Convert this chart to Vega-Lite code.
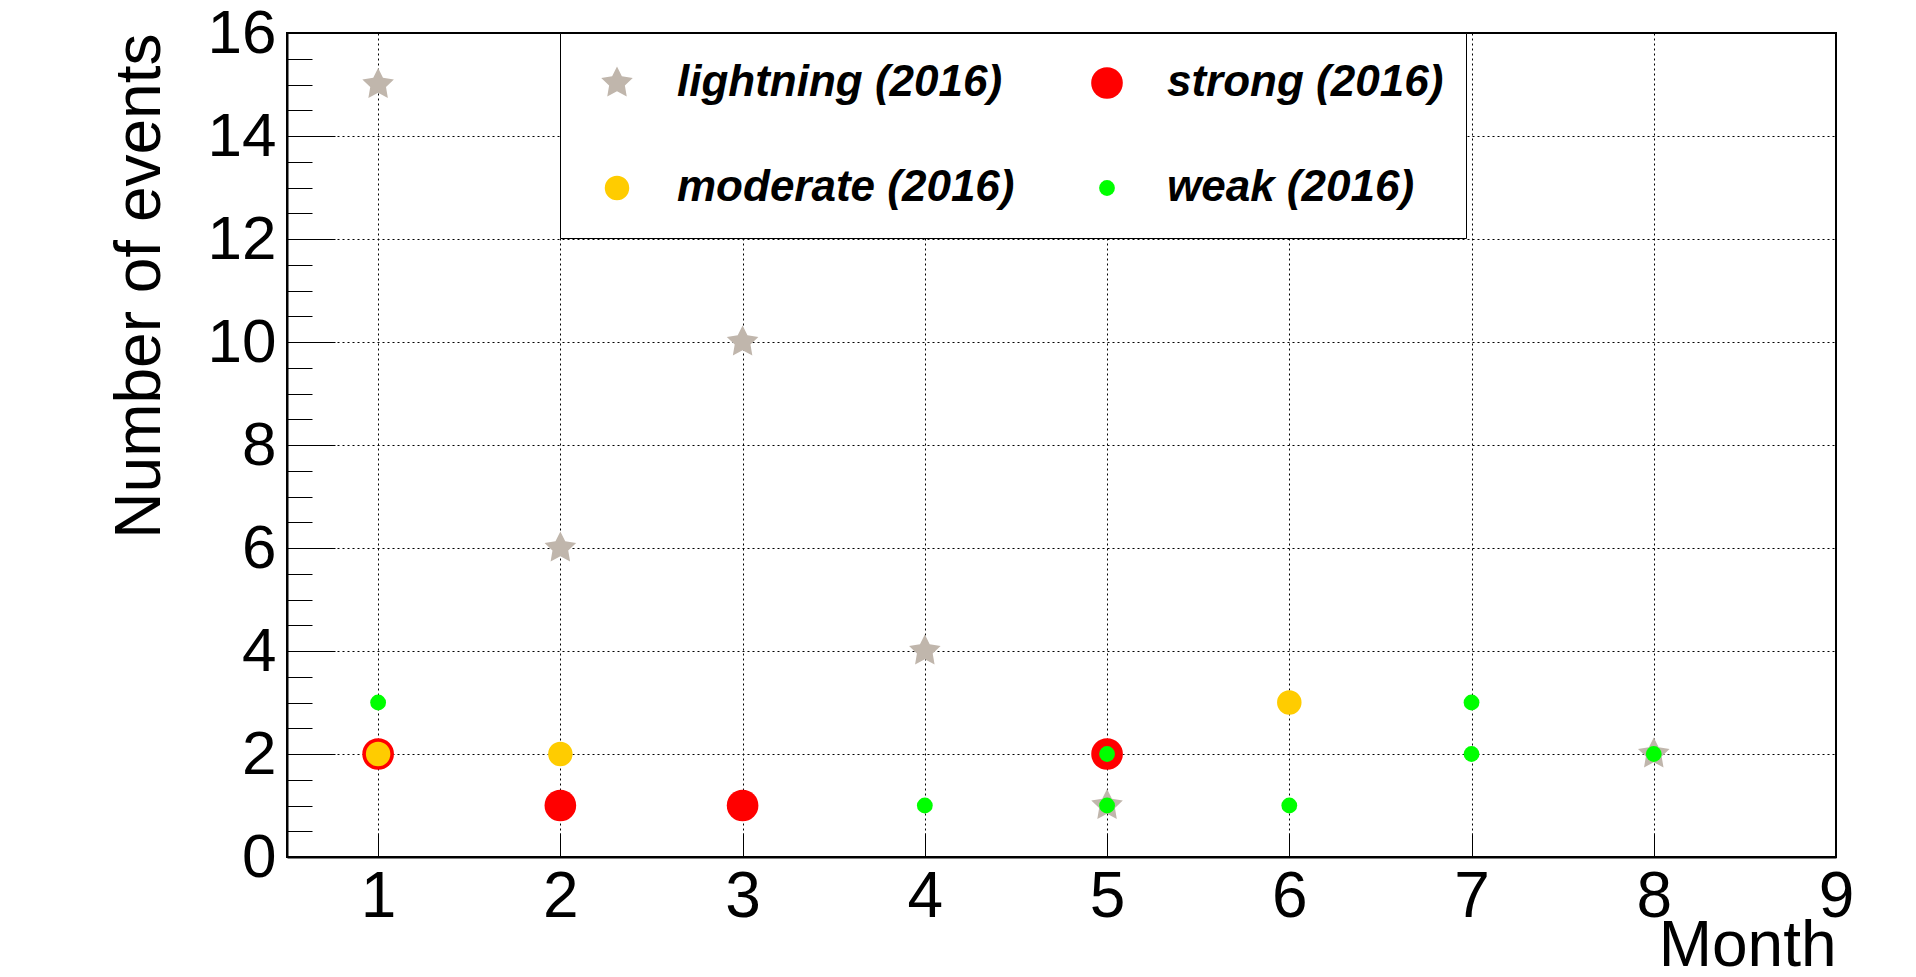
{
  "$schema": "https://vega.github.io/schema/vega-lite/v6.json",
  "width": 1549,
  "height": 824,
  "autosize": {"type": "none"},
  "padding": {"left": 287, "top": 33, "right": 80, "bottom": 120},
  "background": "white",
  "config": {"view": {"stroke": "black", "strokeWidth": 2}, "font": "Liberation Sans"},
  "data": {
    "values": [
      {"series": "lightning (2016)", "month": 1, "count": 15},
      {"series": "lightning (2016)", "month": 2, "count": 6},
      {"series": "lightning (2016)", "month": 3, "count": 10},
      {"series": "lightning (2016)", "month": 4, "count": 4},
      {"series": "lightning (2016)", "month": 5, "count": 1},
      {"series": "lightning (2016)", "month": 8, "count": 2},
      {"series": "strong (2016)", "month": 1, "count": 2},
      {"series": "strong (2016)", "month": 2, "count": 1},
      {"series": "strong (2016)", "month": 3, "count": 1},
      {"series": "strong (2016)", "month": 5, "count": 2},
      {"series": "moderate (2016)", "month": 1, "count": 2},
      {"series": "moderate (2016)", "month": 2, "count": 2},
      {"series": "moderate (2016)", "month": 6, "count": 3},
      {"series": "weak (2016)", "month": 1, "count": 3},
      {"series": "weak (2016)", "month": 4, "count": 1},
      {"series": "weak (2016)", "month": 5, "count": 1},
      {"series": "weak (2016)", "month": 5, "count": 2},
      {"series": "weak (2016)", "month": 6, "count": 1},
      {"series": "weak (2016)", "month": 7, "count": 3},
      {"series": "weak (2016)", "month": 7, "count": 2},
      {"series": "weak (2016)", "month": 8, "count": 2}
    ]
  },
  "layer": [
    {
      "mark": {"type": "point", "filled": true, "opacity": 1},
      "encoding": {
        "x": {
          "field": "month", "type": "quantitative",
          "scale": {"domain": [0.5, 9], "nice": false, "zero": false},
          "axis": {
            "orient": "bottom",
            "values": [1, 2, 3, 4, 5, 6, 7, 8, 9],
            "format": "d",
            "tickSize": -24, "tickColor": "black", "tickWidth": 1,
            "domainColor": "black", "domainWidth": 2,
            "labelFontSize": 64, "labelColor": "black", "labelPadding": 32,
            "labelFlush": false, "labelOverlap": false,
            "grid": true, "gridColor": "black", "gridDash": [2, 3], "gridWidth": 1, "gridOpacity": 1,
            "title": "Month", "titleFontSize": 64, "titleFontWeight": "normal", "titleColor": "black",
            "titleAlign": "right", "titleBaseline": "alphabetic", "titleX": 1549, "titleY": 108
          }
        },
        "y": {
          "field": "count", "type": "quantitative",
          "scale": {"domain": [0, 16], "nice": false, "zero": true},
          "axis": {
            "values": [0, 2, 4, 6, 8, 10, 12, 14, 16],
            "tickSize": -48, "tickColor": "black", "tickWidth": 1,
            "domainColor": "black", "domainWidth": 2,
            "labelFontSize": 62, "labelColor": "black", "labelPadding": 59,
            "labelFlush": false, "labelOverlap": false,
            "grid": true, "gridColor": "black", "gridDash": [2, 3], "gridWidth": 1, "gridOpacity": 1,
            "title": "Number of events", "titleFontSize": 64, "titleFontWeight": "normal", "titleColor": "black",
            "titleAngle": 270, "titleAlign": "right", "titleBaseline": "alphabetic", "titleX": -128, "titleY": 0
          }
        },
        "color": {
          "field": "series", "type": "nominal",
          "scale": {
            "domain": ["lightning (2016)", "moderate (2016)", "strong (2016)", "weak (2016)"],
            "range": ["#c0b6ac", "#ffcc00", "#ff0000", "#00ff00"]
          },
          "legend": {
            "title": null, "orient": "none", "legendX": 273, "legendY": 0,
            "columns": 2,
            "padding": 22, "fillColor": "white", "strokeColor": "black",
            "symbolOffset": 13, "symbolStrokeWidth": 0,
            "labelOffset": 38, "columnPadding": 57, "rowPadding": 49, "clipHeight": 56,
            "labelFontSize": 44, "labelFont": "Liberation Sans", "labelFontStyle": "italic", "labelFontWeight": "bold",
            "labelColor": "black", "labelLimit": 600
          }
        },
        "shape": {
          "field": "series", "type": "nominal",
          "scale": {
            "domain": ["lightning (2016)", "moderate (2016)", "strong (2016)", "weak (2016)"],
            "range": ["M0,-1L0.2939,-0.4045L0.9511,-0.309L0.4755,0.1545L0.5878,0.809L0,0.5L-0.5878,0.809L-0.4755,0.1545L-0.9511,-0.309L-0.2939,-0.4045Z", "circle", "circle", "circle"]
          }
        },
        "size": {
          "field": "series", "type": "nominal",
          "scale": {
            "type": "ordinal",
            "domain": ["lightning (2016)", "moderate (2016)", "strong (2016)", "weak (2016)"],
            "range": [1100, 600, 1000, 250]
          }
        }
      }
    },
    {
      "mark": {"type": "point", "opacity": 0},
      "encoding": {
        "x": {"field": "month", "type": "quantitative", "scale": {"domain": [0.5, 9], "nice": false, "zero": false}},
        "y": {
          "field": "count", "type": "quantitative",
          "scale": {"domain": [0, 16], "nice": false, "zero": true},
          "axis": {
            "orient": "left",
            "values": [0.5, 1, 1.5, 2.5, 3, 3.5, 4.5, 5, 5.5, 6.5, 7, 7.5, 8.5, 9, 9.5, 10.5, 11, 11.5, 12.5, 13, 13.5, 14.5, 15, 15.5],
            "tickSize": -25, "tickColor": "black", "tickWidth": 1,
            "labels": false, "domain": false, "grid": false, "title": null
          }
        }
      }
    }
  ],
  "resolve": {"axis": {"y": "independent"}}
}
